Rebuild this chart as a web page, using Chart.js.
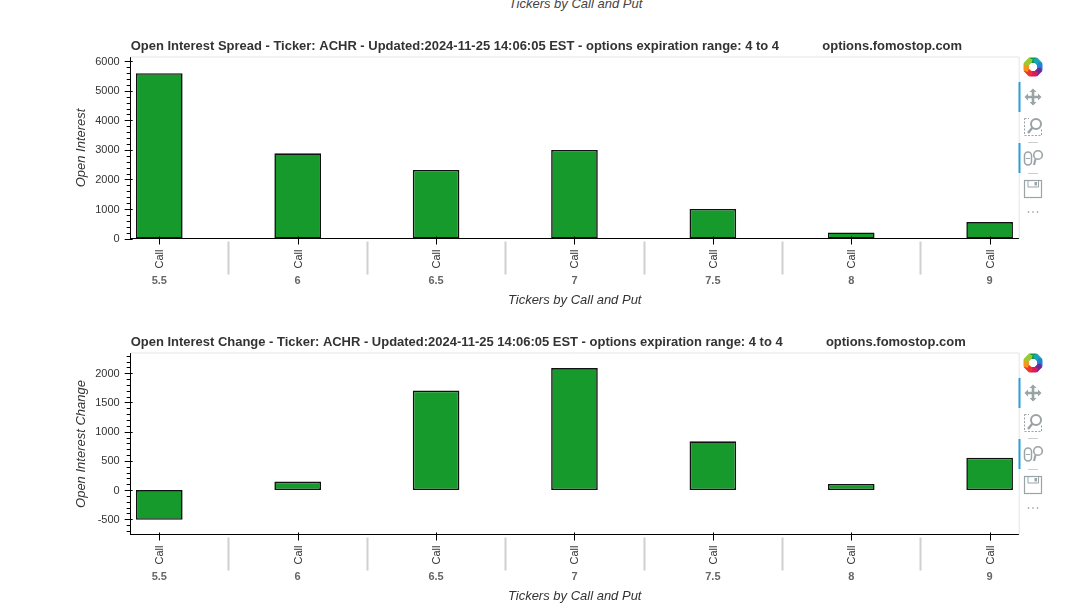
<!DOCTYPE html>
<html><head><meta charset="utf-8">
<script src="https://cdn.jsdelivr.net/npm/chart.js@4"></script>
<style>
html,body{margin:0;padding:0;background:#fff;width:1066px;height:605px;overflow:hidden;position:relative}
canvas{position:absolute;left:0}
#topLabel{position:absolute;left:0;width:1151px;text-align:center;top:-4px;font:italic 13px "Liberation Sans";color:#444}
svg{position:absolute;left:0;top:0}
</style></head><body>
<div id="topLabel">Tickers by Call and Put</div>
<canvas id="c1" width="1066" height="279" style="top:30px"></canvas>
<canvas id="c2" width="1066" height="279" style="top:326px"></canvas>
<svg id="tools" width="1066" height="605"></svg>
<script>
const strikes = ['5.5','6','6.5','7','7.5','8','9'];
const callLabels = ['Call','Call','Call','Call','Call','Call','Call'];
const openInterest = [5595,2885,2320,3000,1000,205,555];
const openInterestChange = [-510,145,1705,2090,835,105,555];
const spreadTicks = [0,1000,2000,3000,4000,5000,6000];
const changeTicks = [-500,0,500,1000,1500,2000];
const titleSpread = 'Open Interest Spread - Ticker: ACHR - Updated:2024-11-25 14:06:05 EST - options expiration range: 4 to 4            options.fomostop.com';
const titleChange = 'Open Interest Change - Ticker: ACHR - Updated:2024-11-25 14:06:05 EST - options expiration range: 4 to 4            options.fomostop.com';
const xTitle = 'Tickers by Call and Put';

const SANS = '"Liberation Sans"';
const decor = {
  id:'decor',
  beforeDatasetsDraw(chart){
    const {ctx,chartArea:a} = chart;
    ctx.save();
    ctx.strokeStyle='#e5e5e5';ctx.lineWidth=1;
    ctx.beginPath();
    ctx.moveTo(a.left,a.top-.5);ctx.lineTo(a.right+.5,a.top-.5);ctx.lineTo(a.right+.5,a.bottom);
    ctx.stroke();
    ctx.restore();
  },
  afterDraw(chart,args,o){
    const {ctx,chartArea:a,scales:{x,y}} = chart;
    ctx.save();
    ctx.strokeStyle='#000';ctx.lineWidth=1;
    const step=o.major, minor=step/5;
    ctx.beginPath();
    for(let v=Math.ceil(y.min/minor)*minor;v<=y.max;v+=minor){
      const p=Math.round(y.getPixelForValue(v))+.5;
      const isMajor=Math.abs(v/step-Math.round(v/step))<1e-6;
      ctx.moveTo(a.left-(isMajor?6:4),p);ctx.lineTo(a.left+(isMajor?2:0),p);
    }
    strikes.forEach((s,i)=>{
      const p=Math.round(x.getPixelForValue(i))+.5;
      ctx.moveTo(p,a.bottom-2);ctx.lineTo(p,a.bottom+6);
    });
    ctx.stroke();
    ctx.strokeStyle='#d0d0d0';ctx.lineWidth=2;
    ctx.beginPath();
    for(let i=0;i<strikes.length-1;i++){
      const p=Math.round(x.getPixelForValue(i+.5))+.5;
      ctx.moveTo(p,a.bottom+3);ctx.lineTo(p,a.bottom+36);
    }
    ctx.stroke();
    ctx.fillStyle='#666';ctx.font='bold 11px '+SANS;ctx.textAlign='center';ctx.textBaseline='middle';
    strikes.forEach((s,i)=>ctx.fillText(s,x.getPixelForValue(i),a.bottom+42));
    ctx.restore();
  }
};
function make(id,title,values,yTitle,min,max,major,yTicks){
  return new Chart(document.getElementById(id),{
    type:'bar',
    plugins:[decor],
    data:{datasets:[{
      data:values.map((v,i)=>({x:i,y:v})),
      backgroundColor:'#179a2c',borderColor:'#111',borderWidth:1.6,borderSkipped:false,
      categoryPercentage:1,barPercentage:0.337
    }]},
    options:{
      responsive:false,animation:false,devicePixelRatio:1,
      layout:{padding:{left:60,right:47.3,top:0,bottom:0}},
      plugins:{
        legend:{display:false},tooltip:{enabled:false},
        decor:{major},
        title:{display:true,text:title,align:'start',fullSize:false,color:'#333',
          font:{family:SANS,size:12.98,weight:'bold',lineHeight:1.2},padding:{top:9,bottom:2.9}}
      },
      scales:{
        x:{type:'linear',offset:false,min:-0.2066,max:6.21,
          grid:{display:false,drawTicks:false},
          border:{display:true,color:'#000',width:1},
          afterBuildTicks(s){s.ticks=strikes.map((_,i)=>({value:i}))},
          ticks:{autoSkip:false,minRotation:90,maxRotation:90,padding:11,labelOffset:1,color:'#333',
            font:{family:SANS,size:11},callback:v=>callLabels[v]},
          title:{display:true,text:xTitle,color:'#333',font:{family:SANS,size:13,style:'italic',lineHeight:1.2},padding:{top:0,bottom:1}},
          afterFit(s){s.height=70.5}
        },
        y:{min,max,
          grid:{display:false,drawTicks:false},
          border:{display:true,color:'#000',width:1},
          afterBuildTicks(s){s.ticks=yTicks.map(value=>({value}))},
          ticks:{padding:11,labelOffset:0.5,color:'#333',font:{family:SANS,size:11},
            callback:v=>String(v)},
          title:{display:true,text:yTitle,color:'#333',font:{family:SANS,size:13,style:'italic',lineHeight:1.2},padding:{top:14,bottom:0}},
          afterFit(s){s.width=70.7}
        }
      }
    }
  });
}
make('c1',titleSpread,openInterest,'Open Interest',0,6130,1000,spreadTicks);
make('c2',titleChange,openInterestChange,'Open Interest Change',-762,2340,500,changeTicks);

// Toolbar icons beside each plot
const G='#9aa3a6';
function toolbar(off){
  const cols=['#0b9c50','#16a6b6','#1f83d6','#6a2a98','#d81b60','#f0342a','#f7941d','#9bc92e'];
  let s=`<g transform="translate(0,${off})">`;
  cols.forEach((c,i)=>{
    s+=`<g transform="rotate(${i*45} 1033 67)"><path d="M1029.5 57.5 L1036.5 57.5 L1038 61.5 L1035 63 L1031 63 L1028 61.5 Z" fill="${c}"/></g>`;
  });
  s+=`<rect x="1018.5" y="82" width="2" height="30" fill="#2a9fd8"/><rect x="1018.5" y="143" width="2" height="30" fill="#2a9fd8"/>`;
  s+=`<g fill="${G}" stroke="none"><path d="M1033 88.5 L1036.5 92 L1034.3 92 L1034.3 95.7 L1038 95.7 L1038 93.5 L1041.5 97 L1038 100.5 L1038 98.3 L1034.3 98.3 L1034.3 102 L1036.5 102 L1033 105.5 L1029.5 102 L1031.7 102 L1031.7 98.3 L1028 98.3 L1028 100.5 L1024.5 97 L1028 93.5 L1028 95.7 L1031.7 95.7 L1031.7 92 L1029.5 92 Z"/></g>`;
  s+=`<rect x="1024.5" y="118.5" width="17" height="17" fill="none" stroke="${G}" stroke-dasharray="2 1.5"/>`;
  s+=`<rect x="1029" y="117" width="14" height="12" fill="#fff"/><circle cx="1036" cy="124" r="5" fill="#fff" stroke="${G}" stroke-width="2"/><line x1="1032.5" y1="127.5" x2="1028" y2="133" stroke="${G}" stroke-width="2.4"/>`;
  s+=`<line x1="1028" x2="1038" y1="142.5" y2="142.5" stroke="#ccc"/><line x1="1028" x2="1038" y1="173.5" y2="173.5" stroke="#ccc"/>`;
  s+=`<rect x="1024.5" y="152" width="7" height="13" rx="3.5" fill="none" stroke="${G}" stroke-width="1.5"/><line x1="1026" x2="1030" y1="158.5" y2="158.5" stroke="${G}"/>`;
  s+=`<circle cx="1038" cy="155" r="4.3" fill="none" stroke="${G}" stroke-width="1.6"/><line x1="1035.5" y1="159" x2="1034" y2="165" stroke="${G}" stroke-width="2"/>`;
  s+=`<rect x="1024.5" y="180.5" width="17" height="17" fill="none" stroke="${G}" stroke-width="1.2"/><path d="M1028 180.5 V187 H1038.5 V180.5" fill="none" stroke="${G}"/><rect x="1034.5" y="182" width="2.5" height="3.5" fill="${G}"/>`;
  [1028.5,1033,1037.5].forEach(x=>s+=`<circle cx="${x}" cy="212" r=".8" fill="#888"/>`);
  return s+'</g>';
}
document.getElementById('tools').innerHTML=toolbar(0)+toolbar(296);
</script>
</body></html>
